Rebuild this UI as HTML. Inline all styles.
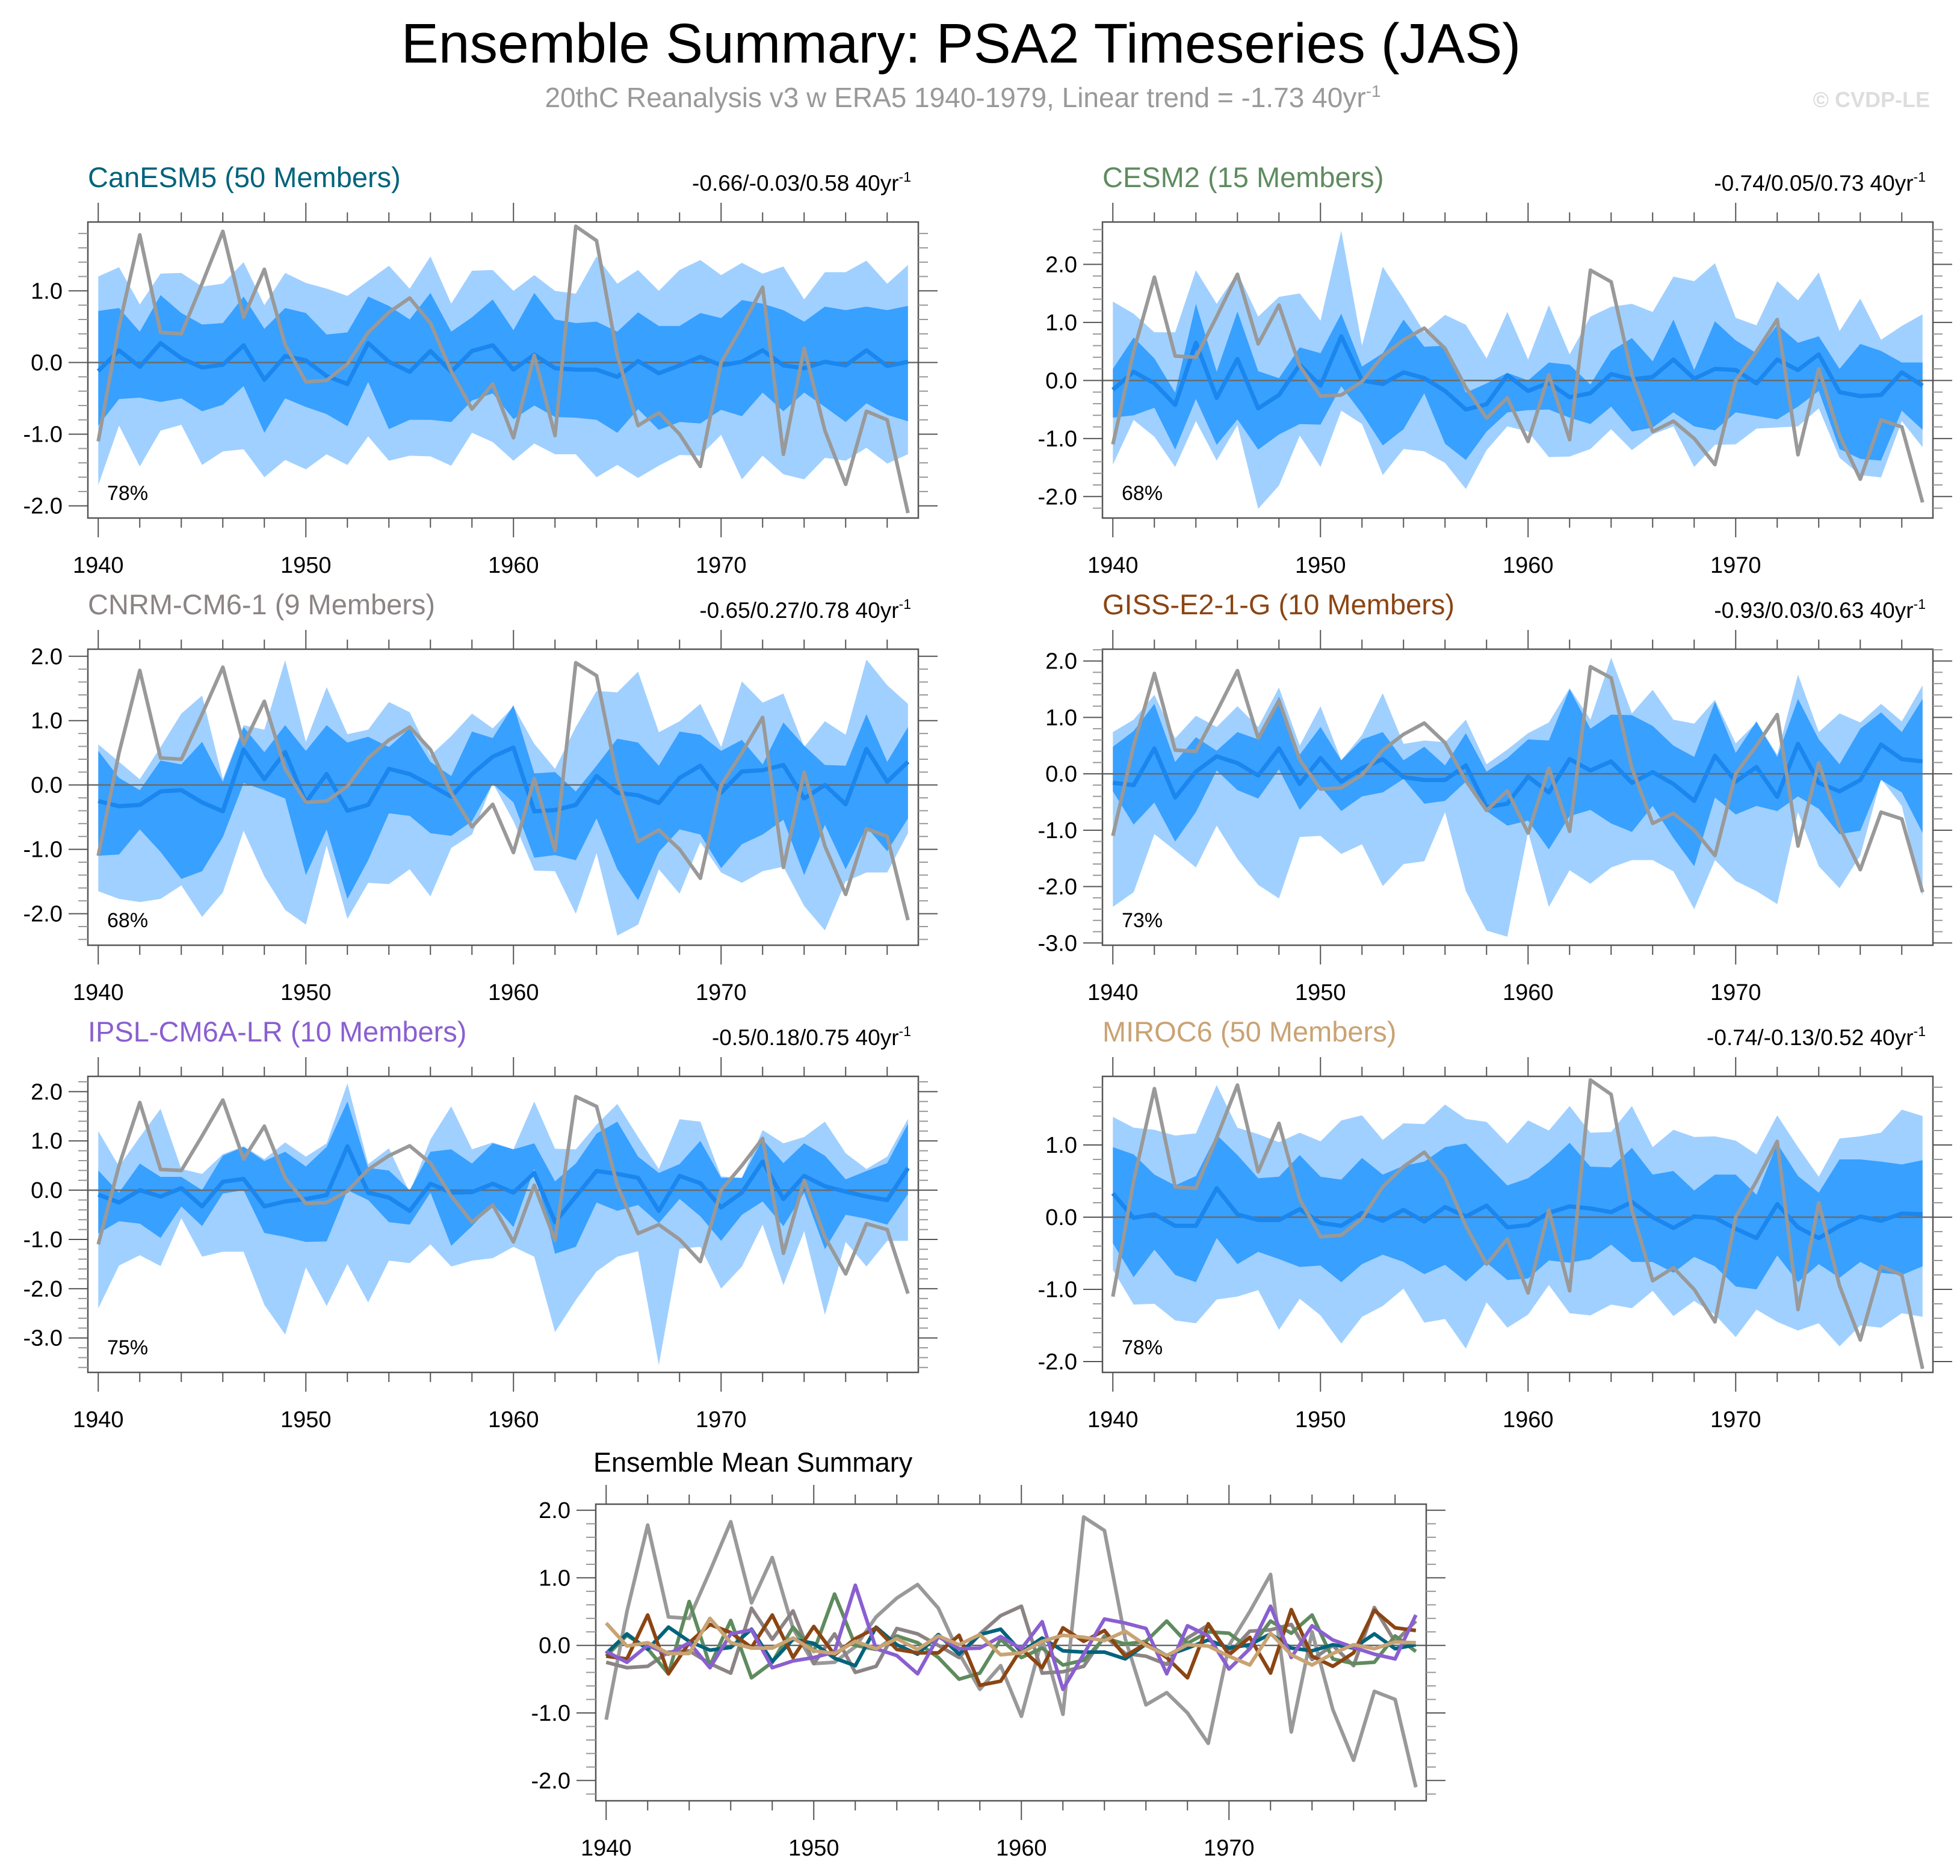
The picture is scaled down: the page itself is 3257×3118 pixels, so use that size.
<!DOCTYPE html>
<html><head><meta charset="utf-8">
<style>
html,body{margin:0;padding:0;background:#fff;}
svg text{font-family:"Liberation Sans",Arial,sans-serif;}
</style></head>
<body>
<svg id="chart" xmlns="http://www.w3.org/2000/svg" width="3257" height="3113" viewBox="0 0 3257 3113">
<rect x="0" y="0" width="3257" height="3113" fill="#fff"/>
<text x="1597" y="104" font-size="93" text-anchor="middle" fill="#000">Ensemble Summary: PSA2 Timeseries (JAS)</text>
<text x="1600" y="178" font-size="46" text-anchor="middle" fill="#999">20thC Reanalysis v3 w ERA5 1940-1979, Linear trend = -1.73 40yr<tspan font-size="28" dy="-17">-1</tspan></text>
<text x="3207" y="178" font-size="36" font-weight="bold" text-anchor="end" fill="#ddd">© CVDP-LE</text>
<g id="panels"></g>
</svg>
<script>
// categories
const years = [];
for (let y = 1940; y <= 1979; y++) years.push(y);
const xTickLabels = [1940, 1950, 1960, 1970];

// observations (20thC Reanalysis v3 w ERA5)
const obs = [-1.1,0.5,1.78,0.42,0.40,1.1,1.83,0.63,1.3,0.25,-0.27,-0.25,-0.02,0.42,0.7,0.9,0.55,-0.12,-0.65,-0.3,-1.05,0.1,-1.02,1.9,1.7,0.1,-0.88,-0.7,-1.0,-1.45,0.0,0.5,1.05,-1.28,0.2,-0.95,-1.7,-0.68,-0.8,-2.1];

// CanESM5
const canOU = [1.2,1.33,0.81,1.24,1.25,1.06,1.1,1.4,0.8,1.25,1.11,1.03,0.93,1.14,1.35,1.03,1.48,0.82,1.28,1.29,1.0,1.22,1.0,0.96,1.48,1.1,1.29,1.0,1.29,1.43,1.22,1.39,1.24,1.34,0.88,1.26,1.26,1.42,1.1,1.36];
const canIU = [0.72,0.76,0.43,0.94,0.69,0.53,0.55,0.92,0.47,0.76,0.69,0.39,0.42,0.92,0.79,0.6,0.97,0.43,0.63,0.88,0.45,0.97,0.6,0.55,0.57,0.43,0.7,0.51,0.51,0.69,0.62,0.87,0.82,0.73,0.57,0.78,0.73,0.78,0.73,0.79];
const canMean = [-0.12,0.17,-0.06,0.27,0.06,-0.07,-0.03,0.24,-0.24,0.09,0.03,-0.19,-0.3,0.27,0.01,-0.13,0.16,-0.13,0.16,0.24,-0.1,0.11,-0.08,-0.1,-0.1,-0.2,0.02,-0.15,-0.04,0.08,-0.04,0.01,0.17,-0.04,-0.08,0.01,-0.04,0.17,-0.05,0.01];
const canIL = [-0.88,-0.51,-0.49,-0.55,-0.5,-0.68,-0.59,-0.33,-0.98,-0.5,-0.62,-0.72,-0.89,-0.27,-0.93,-0.8,-0.8,-0.83,-0.53,-0.43,-0.79,-0.6,-0.76,-0.77,-0.8,-0.98,-0.65,-0.94,-0.83,-0.85,-0.66,-0.75,-0.42,-0.68,-0.42,-0.62,-0.83,-0.57,-0.73,-0.82];
const canOL = [-1.71,-0.88,-1.45,-0.95,-0.87,-1.43,-1.24,-1.21,-1.6,-1.36,-1.49,-1.28,-1.43,-1.03,-1.37,-1.3,-1.31,-1.44,-0.98,-1.11,-1.37,-1.13,-1.28,-1.28,-1.6,-1.43,-1.61,-1.44,-1.29,-1.3,-1.01,-1.63,-1.3,-1.56,-1.63,-1.33,-1.37,-1.19,-1.41,-1.28];

// CESM2
const cesOU = [1.36,1.15,0.83,0.83,1.9,1.32,1.86,1.1,1.44,1.5,1.03,2.58,0.6,1.96,1.41,0.83,1.13,0.96,0.38,1.18,0.36,1.3,0.45,1.1,1.27,1.32,1.18,1.79,1.71,2.02,1.08,0.95,1.71,1.38,1.86,0.85,1.41,0.7,0.94,1.14];
const cesIU = [0.2,0.74,0.38,-0.21,1.32,0.15,1.19,0.16,0.04,0.57,0.47,1.15,0.24,0.47,1.05,0.58,0.6,-0.21,-0.05,0.13,0,0.31,0.27,-0.07,0.51,0.73,0.33,1.05,0.18,1.02,0.69,0.47,0.96,0.65,0.76,0.2,0.63,0.51,0.31,0.31];
const cesMean = [-0.16,0.15,-0.05,-0.42,0.65,-0.3,0.37,-0.48,-0.25,0.27,-0.09,0.76,0,-0.06,0.14,0.04,-0.18,-0.5,-0.41,0.09,-0.18,-0.04,-0.29,-0.22,0.11,0.02,0.06,0.36,0.03,0.2,0.18,-0.05,0.36,0.18,0.45,-0.2,-0.27,-0.25,0.14,-0.09];
const cesIL = [-0.64,-0.6,-0.47,-1.19,-0.32,-1.11,-0.67,-1.19,-0.93,-0.75,-0.76,-0.1,-0.57,-1.12,-0.84,-0.22,-1.09,-1.37,-0.88,-0.55,-0.51,-0.5,-0.64,-0.75,-0.45,-0.88,-0.81,-0.55,-0.79,-0.86,-0.55,-0.61,-0.67,-0.45,-0.18,-1.18,-1.35,-1.38,-0.52,-0.85];
const cesOL = [-1.45,-0.68,-0.97,-1.49,-0.7,-1.38,-0.77,-2.21,-1.81,-0.95,-1.49,-0.52,-0.75,-1.63,-1.18,-1.22,-1.42,-1.87,-1.2,-0.79,-0.88,-1.32,-1.31,-1.18,-0.84,-1.2,-0.93,-0.79,-1.49,-1.11,-1.1,-0.83,-0.81,-0.79,-0.48,-1.33,-1.63,-1.67,-0.7,-1.15];

// CNRM-CM6-1
const cnrOU = [0.63,0.36,0.09,0.59,1.11,1.39,0.09,0.93,0.86,1.94,0.67,1.52,0.79,0.86,1.29,1.13,0.46,0.76,1.11,0.88,1.22,0.64,0.25,0.9,1.46,1.44,1.76,0.82,0.99,1.26,0.59,1.61,1.28,1.42,0.59,0.99,0.78,1.95,1.55,1.26];
const cnrIU = [0.53,0.11,-0.08,0.38,0.32,0.67,0.05,0.9,0.51,0.93,0.53,0.93,0.66,0.75,0.59,0.88,0.36,0.14,0.83,0.73,1.24,0.18,0.2,-0.1,0.3,0.72,0.66,0.3,0.83,0.78,0.53,0.7,0.32,0.97,0.61,0.31,0.3,1.1,0.36,0.9];
const cnrMean = [-0.25,-0.33,-0.31,-0.1,-0.08,-0.27,-0.41,0.55,0.09,0.51,-0.27,0.17,-0.4,-0.31,0.25,0.17,0,-0.18,0.17,0.44,0.58,-0.41,-0.39,-0.31,0.14,-0.12,-0.16,-0.28,0.11,0.3,-0.12,0.21,0.23,0.31,-0.21,0,-0.3,0.56,0.05,0.36];
const cnrIL = [-1.1,-1.08,-0.69,-1.04,-1.46,-1.34,-0.81,0.03,-0.08,-0.21,-1.4,-0.69,-1.77,-1.17,-0.44,-0.48,-0.75,-0.79,-0.56,0.02,-0.27,-1.13,-1.09,-1.17,-0.52,-1.31,-1.79,-1.04,-0.69,-0.77,-1.29,-0.92,-0.77,-0.54,-1.4,-0.62,-1.31,-0.65,-1.03,-0.52];
const cnrOL = [-1.65,-1.77,-1.82,-1.77,-1.56,-2.05,-1.67,-0.71,-1.42,-1.94,-2.17,-0.94,-2.08,-1.52,-1.54,-1.31,-1.73,-0.98,-0.77,0.03,-0.56,-1.33,-1.34,-2.0,-1.06,-2.34,-2.17,-1.31,-1.69,-0.89,-1.36,-1.52,-1.34,-1.27,-1.88,-2.26,-1.5,-1.36,-1.36,-0.75];

// GISS-E2-1-G
const gisOU = [0.74,0.96,1.4,0.63,1.03,0.83,1.2,0.83,1.53,0.5,1.2,0.24,0.69,1.43,0.53,0.59,0.56,0.96,0.17,0.43,0.72,0.91,1.52,0.96,2.06,1.07,1.49,0.96,0.89,1.31,0.54,0.91,0.34,1.76,0.74,1.07,0.91,1.24,0.93,1.57];
const gisIU = [0.48,0.76,1.24,0.21,0.65,0.41,0.74,0.61,1.37,0.34,0.83,0.24,0.61,0.74,0.24,0.48,0.15,0.72,0.04,0.28,0.61,0.59,1.5,0.8,1.05,1.04,0.85,0.5,0.3,1.28,0.37,0.93,0.3,1.33,0.61,0.17,0.8,1.09,0.74,1.33];
const gisMean = [-0.16,-0.2,0.45,-0.42,0.04,0.31,0.19,-0.03,0.45,-0.18,0.28,-0.14,0.1,0.26,-0.06,-0.11,-0.11,0.15,-0.59,-0.53,-0.05,-0.33,0.26,0.06,0.22,-0.16,0.03,-0.18,-0.48,0.32,-0.14,0.12,-0.41,0.53,-0.16,-0.31,-0.11,0.52,0.26,0.22];
const gisIL = [-0.31,-0.9,-0.51,-1.2,-0.68,0.06,-0.29,-0.44,0.08,-0.64,-0.22,-0.66,-0.4,-0.33,-0.09,-0.53,-0.48,-0.14,-0.66,-0.92,-0.83,-1.34,-0.75,-0.64,-0.88,-1.03,-0.57,-1.14,-1.64,-0.42,-0.72,-0.57,-0.66,-0.4,-0.62,-1.07,-1.01,-0.11,-0.33,-1.05];
const gisOL = [-2.36,-2.1,-1.07,-1.36,-1.66,-0.92,-1.51,-1.97,-2.21,-1.12,-1.1,-1.42,-1.25,-1.99,-1.6,-1.55,-0.68,-2.08,-2.78,-2.89,-1.03,-2.36,-1.71,-1.95,-1.66,-1.53,-1.53,-1.73,-2.4,-1.53,-1.9,-2.08,-2.31,-0.68,-1.64,-2.03,-1.45,-0.09,-0.57,-2.17];

// IPSL-CM6A-LR
const ipsOU = [1.2,0.48,1.08,1.65,0.43,0.33,0.73,0.89,0.63,0.97,0.68,0.95,2.17,0.53,0.85,-0.05,1.03,1.7,0.83,0.97,0.83,1.8,0.84,0.83,1.33,1.75,1.08,0.43,1.44,1.39,0.28,0.25,1.22,0.95,1.08,1.39,0.75,0.43,0.68,1.45];
const ipsIU = [0.4,-0.05,0.54,0.27,0.27,0,0.7,0.88,0.59,0.78,0.48,0.88,1.8,0.45,0.4,0,0.78,0.83,0.54,0.95,0.83,0.95,0.18,0.54,1.15,1.39,0.68,0.35,0.53,1.0,0.25,0.25,1.03,0.55,0.95,0.7,0.22,0.39,0.55,1.35];
const ipsMean = [-0.09,-0.25,0,-0.13,0.04,-0.33,0.17,0.23,-0.33,-0.23,-0.18,-0.1,0.89,-0.05,-0.15,-0.42,0.13,-0.05,-0.04,0.13,-0.05,0.35,-0.65,-0.13,0.39,0.33,0.25,-0.42,0.29,0.14,-0.35,-0.05,0.58,-0.18,0.29,0.08,-0.03,-0.13,-0.2,0.45];
const ipsIL = [-0.88,-0.63,-0.68,-0.97,-0.33,-0.73,-0.07,0,-0.87,-0.95,-1.05,-1.04,0,-0.2,-0.65,-0.7,-0.05,-1.13,-0.73,-0.28,-0.75,0.43,-1.29,-1.15,-0.25,-0.42,-0.3,-0.67,-0.18,-0.53,-1.03,-0.5,-0.23,-0.73,-0.05,-1.2,-0.5,-0.58,-0.7,-0.08];
const ipsOL = [-2.4,-1.53,-1.32,-1.54,-0.57,-1.35,-1.25,-1.25,-2.33,-2.93,-1.57,-2.35,-1.5,-2.28,-1.43,-1.48,-1.1,-1.55,-1.43,-1.38,-1.15,-1.35,-2.88,-2.23,-1.65,-1.35,-1.24,-3.55,-1.19,-1.15,-2.0,-1.55,-0.7,-1.93,-0.83,-2.53,-1.05,-1.55,-1.03,-1.03];

// MIROC6
const mirOU = [1.39,1.24,1.21,1.13,1.16,1.83,1.24,1.15,1.04,1.17,1.05,1.34,1.41,1.07,1.3,1.29,1.56,1.36,1.32,1.02,1.34,1.2,1.54,1.17,1.18,1.54,0.97,1.21,1.11,1.12,1.06,0.87,1.41,0.97,0.56,1.09,1.12,1.17,1.49,1.4];
const mirIU = [0.97,0.87,0.59,0.44,0.57,1.14,0.86,0.54,0.56,0.86,0.56,0.52,0.82,0.59,0.71,0.77,0.97,1.02,0.73,0.44,0.54,0.76,1.03,0.7,0.69,0.96,0.59,0.64,0.37,0.59,0.59,0.31,1.02,0.57,0.34,0.8,0.8,0.77,0.73,0.79];
const mirMean = [0.33,-0.01,0.04,-0.12,-0.12,0.4,0.04,-0.04,-0.04,0.11,-0.08,-0.12,0.06,-0.05,0.1,-0.06,0.14,0.01,0.16,-0.14,-0.11,0.06,0.15,0.12,0.07,0.21,0,-0.15,0.01,-0.01,-0.16,-0.29,0.18,-0.14,-0.29,-0.12,0.01,-0.05,0.05,0.04];
const mirIL = [-0.36,-0.83,-0.45,-0.8,-0.9,-0.29,-0.65,-0.48,-0.58,-0.69,-0.67,-0.9,-0.65,-0.52,-0.62,-0.79,-0.66,-0.89,-0.63,-0.87,-0.85,-0.6,-0.63,-0.58,-0.38,-0.62,-0.62,-0.77,-0.55,-0.68,-0.96,-1.0,-0.53,-0.9,-0.65,-0.84,-0.62,-0.77,-0.8,-0.68];
const mirOL = [-0.73,-1.21,-1.2,-1.43,-1.47,-1.14,-1.1,-1.01,-1.56,-1.13,-1.36,-1.75,-1.38,-1.23,-0.99,-1.46,-1.41,-1.82,-1.18,-1.53,-1.35,-0.94,-1.33,-1.36,-1.21,-1.26,-1.02,-1.37,-1.16,-1.35,-1.66,-1.28,-1.45,-1.57,-1.47,-1.79,-1.5,-1.53,-1.33,-1.38];

const NS = 'http://www.w3.org/2000/svg';
const root = document.getElementById('panels');
function mk(tag, attrs, parent) {
  const e = document.createElementNS(NS, tag);
  for (const k in attrs) e.setAttribute(k, attrs[k]);
  (parent || root).appendChild(e);
  return e;
}
const LIGHT = '#a0d0ff', DARK = '#38a0ff', MEANC = '#1a86ee', OBSC = '#999999';

function makeAxes(box) {
  const xs = v => box.x + (v - 1939.5) / 40 * box.w;
  const ys = v => box.y + (box.ymax - v) / (box.ymax - box.ymin) * box.h;
  return { xs, ys };
}

function drawFrame(g, box, ax, slug) {
  const { xs, ys } = ax;
  const bx = box.x, by = box.y, bw = box.w, bh = box.h;
  const z = mk('line', { x1: bx, x2: bx + bw, y1: ys(0), y2: ys(0), stroke: '#6b6b6b', 'stroke-width': 2.5 }, g);
  
  
  const fr = mk('rect', { x: bx, y: by, width: bw, height: bh, fill: 'none', stroke: '#555', 'stroke-width': 2.5 }, g);
  
  
  for (let yr = 1940; yr <= 1979; yr += 2) {
    const major = (yr % 10 === 0);
    const L = major ? 32 : 16;
    const xx = xs(yr);
    mk('line', { x1: xx, x2: xx, y1: by, y2: by - L, stroke: '#555', 'stroke-width': 2 }, g);
    mk('line', { x1: xx, x2: xx, y1: by + bh, y2: by + bh + L, stroke: '#555', 'stroke-width': 2 }, g);
  }
  xTickLabels.forEach(v => {
    const t = mk('text', { x: xs(v), y: by + bh + 91, 'font-size': 38, 'text-anchor': 'middle', fill: '#000' }, g);
    t.textContent = v;
    
    
  });
  const lo = Math.ceil(box.ymin * 5 - 1e-6), hi = Math.floor(box.ymax * 5 + 1e-6);
  for (let k = lo; k <= hi; k++) {
    const v = k / 5;
    const major = (k % 5 === 0);
    const L = major ? 32 : 16;
    const yy = ys(v);
    mk('line', { x1: bx, x2: bx - L, y1: yy, y2: yy, stroke: major ? '#555' : '#999', 'stroke-width': 2 }, g);
    mk('line', { x1: bx + bw, x2: bx + bw + L, y1: yy, y2: yy, stroke: major ? '#555' : '#999', 'stroke-width': 2 }, g);
    if (major) {
      const t = mk('text', { x: bx - 42, y: yy + 13, 'font-size': 38, 'text-anchor': 'end', fill: '#000' }, g);
      t.textContent = v.toFixed(1);
      
      
    }
  }
}

function linePath(arr, ax) {
  return arr.map((v, i) => (i ? 'L' : 'M') + ax.xs(years[i]).toFixed(1) + ',' + ax.ys(v).toFixed(1)).join(' ');
}
function bandPath(up, lo, ax) {
  let d = up.map((v, i) => (i ? 'L' : 'M') + ax.xs(years[i]).toFixed(1) + ',' + ax.ys(v).toFixed(1)).join(' ');
  for (let i = lo.length - 1; i >= 0; i--) d += ' L' + ax.xs(years[i]).toFixed(1) + ',' + ax.ys(lo[i]).toFixed(1);
  return d + ' Z';
}

const panels = [
  { slug: 'canesm5', title: 'CanESM5 (50 Members)', color: '#00637c', trend: '-0.66/-0.03/0.58 40yr', pct: '78%', x: 146, y: 369, ymin: -2.17, ymax: 1.96, ou: canOU, iu: canIU, mean: canMean, il: canIL, ol: canOL },
  { slug: 'cesm2', title: 'CESM2 (15 Members)', color: '#5f8b5f', trend: '-0.74/0.05/0.73 40yr', pct: '68%', x: 1832, y: 369, ymin: -2.37, ymax: 2.73, ou: cesOU, iu: cesIU, mean: cesMean, il: cesIL, ol: cesOL },
  { slug: 'cnrm-cm6-1', title: 'CNRM-CM6-1 (9 Members)', color: '#8c8484', trend: '-0.65/0.27/0.78 40yr', pct: '68%', x: 146, y: 1079, ymin: -2.49, ymax: 2.11, ou: cnrOU, iu: cnrIU, mean: cnrMean, il: cnrIL, ol: cnrOL },
  { slug: 'giss-e2-1-g', title: 'GISS-E2-1-G (10 Members)', color: '#8b4513', trend: '-0.93/0.03/0.63 40yr', pct: '73%', x: 1832, y: 1079, ymin: -3.04, ymax: 2.21, ou: gisOU, iu: gisIU, mean: gisMean, il: gisIL, ol: gisOL },
  { slug: 'ipsl-cm6a-lr', title: 'IPSL-CM6A-LR (10 Members)', color: '#8a5fd0', trend: '-0.5/0.18/0.75 40yr', pct: '75%', x: 146, y: 1789, ymin: -3.7, ymax: 2.31, ou: ipsOU, iu: ipsIU, mean: ipsMean, il: ipsIL, ol: ipsOL },
  { slug: 'miroc6', title: 'MIROC6 (50 Members)', color: '#c9a374', trend: '-0.74/-0.13/0.52 40yr', pct: '78%', x: 1832, y: 1789, ymin: -2.15, ymax: 1.95, ou: mirOU, iu: mirIU, mean: mirMean, il: mirIL, ol: mirOL }
];

panels.forEach(p => {
  const box = { x: p.x, y: p.y, w: 1380, h: 492, ymin: p.ymin, ymax: p.ymax };
  const ax = makeAxes(box);
  const g = mk('g', {});
  
  
  const t = mk('text', { x: box.x, y: box.y - 58, 'font-size': 47, fill: p.color }, g);
  t.textContent = p.title;
  
  
  const tr = mk('text', { x: box.x + box.w - 12, y: box.y - 52, 'font-size': 37, 'text-anchor': 'end', fill: '#000' }, g);
  tr.textContent = p.trend;
  const sup = mk('tspan', { 'font-size': 23, dy: -15 }, tr);
  sup.textContent = '-1';
  
  
  const b1 = mk('path', { d: bandPath(p.ou, p.ol, ax), fill: LIGHT, stroke: 'none' }, g);
  
  
  const b2 = mk('path', { d: bandPath(p.iu, p.il, ax), fill: DARK, stroke: 'none' }, g);
  
  
  drawFrame(g, box, ax, p.slug);
  const m = mk('path', { d: linePath(p.mean, ax), fill: 'none', stroke: MEANC, 'stroke-width': 7, 'stroke-linejoin': 'round' }, g);
  
  
  const o = mk('path', { d: linePath(obs, ax), fill: 'none', stroke: OBSC, 'stroke-width': 6, 'stroke-linejoin': 'round' }, g);
  
  
  const pc = mk('text', { x: box.x + 32, y: box.y + box.h - 30, 'font-size': 34, fill: '#000' }, g);
  pc.textContent = p.pct;
  
  
});

// Ensemble mean summary
(function () {
  const box = { x: 990, y: 2500, w: 1380, h: 493, ymin: -2.3, ymax: 2.09 };
  const ax = makeAxes(box);
  const g = mk('g', {});
  
  
  const t = mk('text', { x: 986, y: 2446, 'font-size': 45, fill: '#000' }, g);
  t.textContent = 'Ensemble Mean Summary';
  
  
  drawFrame(g, box, ax, 'summary');
  const o = mk('path', { d: linePath(obs, ax), fill: 'none', stroke: OBSC, 'stroke-width': 6, 'stroke-linejoin': 'round' }, g);
  
  
  const order = [2, 1, 0, 3, 4, 5];
  order.forEach(i => {
    const p = panels[i];
    const l = mk('path', { d: linePath(p.mean, ax), fill: 'none', stroke: p.color, 'stroke-width': 6, 'stroke-linejoin': 'round' }, g);
    
    
  });
})();
</script>
</body></html>
